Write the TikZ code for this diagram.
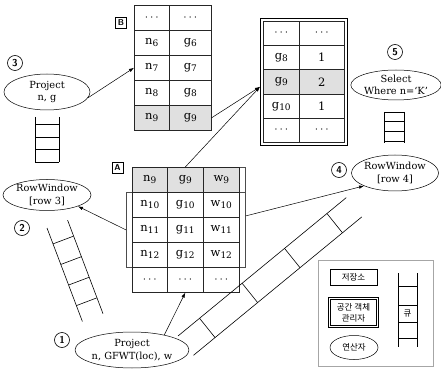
\documentclass[tikz,border=0pt]{standalone}
\usepackage{fontspec}
\setmainfont{DejaVu Serif}
\newfontfamily\krfont{Noto Sans CJK KR}
\usetikzlibrary{shapes.geometric,arrows.meta,calc}
\newcommand\mysub[1]{\raisebox{-0.35ex}{\fontsize{9}{9}\selectfont #1}}
\begin{document}
\begin{tikzpicture}[x=1pt,y=-1pt,
  cellb/.style={draw=black!85, line width=0.6pt, inner sep=0pt, anchor=north west, font=\fontsize{11.5}{12}\selectfont},
  gr/.style={fill=black!12},
  ell/.style={ellipse, draw, line width=0.5pt, inner sep=0pt, align=center, font=\fontsize{9.8}{12.5}\selectfont},
  num/.style={circle, draw, line width=0.6pt, inner sep=0pt, minimum size=15pt, font=\sffamily\bfseries\fontsize{10}{10}\selectfont},
  lab/.style={draw, line width=0.6pt, inner sep=0pt, minimum size=11pt, font=\sffamily\bfseries\fontsize{8.5}{8.5}\selectfont},
  arr/.style={-{Latex[length=5pt,width=3.5pt]}, line width=0.5pt},
  rail/.style={line width=0.6pt},
  krtext/.style={font=\krfont\fontsize{8.5}{11}\selectfont},
]
\useasboundingbox (0,0) rectangle (441,371);

% ---------- table B ----------
\node[lab] (labB) at (121,23) {B};
\node[cellb, minimum width=35pt, minimum height=25pt] (B-1-1) at (134,5) {$\cdots$};
\node[cellb, minimum width=42pt, minimum height=25pt] (B-1-2) at (169,5) {$\cdots$};
\node[cellb, minimum width=35pt, minimum height=25pt] (B-2-1) at (134,30) {n\mysub{6}};
\node[cellb, minimum width=42pt, minimum height=25pt] (B-2-2) at (169,30) {g\mysub{6}};
\node[cellb, minimum width=35pt, minimum height=25pt] (B-3-1) at (134,55) {n\mysub{7}};
\node[cellb, minimum width=42pt, minimum height=25pt] (B-3-2) at (169,55) {g\mysub{7}};
\node[cellb, minimum width=35pt, minimum height=25pt] (B-4-1) at (134,80) {n\mysub{8}};
\node[cellb, minimum width=42pt, minimum height=25pt] (B-4-2) at (169,80) {g\mysub{8}};
\node[cellb, gr, minimum width=35pt, minimum height=25pt] (B-5-1) at (134,105) {n\mysub{9}};
\node[cellb, gr, minimum width=42pt, minimum height=25pt] (B-5-2) at (169,105) {g\mysub{9}};

% ---------- count table ----------
\node[cellb, minimum width=36pt, minimum height=24pt] (C-1-1) at (263,21) {$\cdots$};
\node[cellb, minimum width=45pt, minimum height=24pt] (C-1-2) at (299,21) {$\cdots$};
\node[cellb, minimum width=36pt, minimum height=24pt] (C-2-1) at (263,45) {g\mysub{8}};
\node[cellb, minimum width=45pt, minimum height=24pt] (C-2-2) at (299,45) {1};
\node[cellb, gr, minimum width=36pt, minimum height=25pt] (C-3-1) at (263,69) {g\mysub{9}};
\node[cellb, gr, minimum width=45pt, minimum height=25pt] (C-3-2) at (299,69) {2};
\node[cellb, minimum width=36pt, minimum height=24pt] (C-4-1) at (263,94) {g\mysub{10}};
\node[cellb, minimum width=45pt, minimum height=24pt] (C-4-2) at (299,94) {1};
\node[cellb, minimum width=36pt, minimum height=24pt] (C-5-1) at (263,118) {$\cdots$};
\node[cellb, minimum width=45pt, minimum height=24pt] (C-5-2) at (299,118) {$\cdots$};
\draw[line width=1.1pt] ([shift={(-2.5,-2.5)}]C-1-1.north west) rectangle ([shift={(2.5,2.5)}]C-5-2.south east);

% ---------- table A ----------
\node[lab] (labA) at (117.5,168) {A};
\node[draw=black!70, line width=0.8pt, minimum width=119pt, minimum height=75pt, inner sep=0pt, anchor=north west] (win) at (126,192) {};
\draw[draw=black!70, line width=0.8pt] (win.north east) -- ([yshift=25pt]win.north east) -- ++(-6,0);
\node[cellb, gr, minimum width=35pt, minimum height=25pt] (A-1-1) at (132,167) {n\mysub{9}};
\node[cellb, gr, minimum width=36pt, minimum height=25pt] (A-1-2) at (167,167) {g\mysub{9}};
\node[cellb, gr, minimum width=36pt, minimum height=25pt] (A-1-3) at (203,167) {w\mysub{9}};
\node[cellb, minimum width=35pt, minimum height=25pt] (A-2-1) at (132,192) {n\mysub{10}};
\node[cellb, minimum width=36pt, minimum height=25pt] (A-2-2) at (167,192) {g\mysub{10}};
\node[cellb, minimum width=36pt, minimum height=25pt] (A-2-3) at (203,192) {w\mysub{10}};
\node[cellb, minimum width=35pt, minimum height=25pt] (A-3-1) at (132,217) {n\mysub{11}};
\node[cellb, minimum width=36pt, minimum height=25pt] (A-3-2) at (167,217) {g\mysub{11}};
\node[cellb, minimum width=36pt, minimum height=25pt] (A-3-3) at (203,217) {w\mysub{11}};
\node[cellb, minimum width=35pt, minimum height=25pt] (A-4-1) at (132,242) {n\mysub{12}};
\node[cellb, minimum width=36pt, minimum height=25pt] (A-4-2) at (167,242) {g\mysub{12}};
\node[cellb, minimum width=36pt, minimum height=25pt] (A-4-3) at (203,242) {w\mysub{12}};
\node[cellb, minimum width=35pt, minimum height=25pt] (A-6-1) at (132,267) {$\cdots$};
\node[cellb, minimum width=36pt, minimum height=25pt] (A-6-2) at (167,267) {$\cdots$};
\node[cellb, minimum width=36pt, minimum height=25pt] (A-6-3) at (203,267) {$\cdots$};

% ---------- operators ----------
\node[ell, minimum width=86pt, minimum height=36pt] (p3) at (47,92) {Project\\n, g};
\node[ell, minimum width=88pt, minimum height=31pt] (rw3) at (47,195) {RowWindow\\{[row 3]}};
\node[ell, minimum width=110pt, minimum height=36pt] (p1) at (132,350) {Project\\n, GFWT(loc), w};
\node[ell, minimum width=85pt, minimum height=36pt] (rw4) at (395,173) {RowWindow\\{[row 4]}};
\node[ell, minimum width=87pt, minimum height=30pt] (sel) at (396,85) {Select\\Where n=`K'};

\node[num] (c3) at (15,63) {3};
\node[num] (c2) at (22,228) {2};
\node[num] (c1) at (62,340) {1};
\node[num] (c4) at (339,170) {4};
\node[num] (c5) at (395,52) {5};

% ---------- connectors ----------
\draw[arr] (p3.-8) -- (B-3-1.west);
\draw[arr] (win.west) -- (rw3.-20);
\draw[arr] (A-1-2.north) -- ([xshift=-3pt,yshift=-5pt]C-3-1.west);
\draw[arr] (B-5-2.east) -- ([xshift=-3pt,yshift=-5pt]C-3-1.west);
\draw[arr] ([yshift=14pt]win.east) -- (rw4.south west);
\draw[arr] (p1.25) -- (A-6-2.south);

% ---------- queues ----------
\draw[rail] (35,117) -- (35,162) (59,117) -- (59,162);
\foreach \yy in {124,137,149,162} \draw[rail] (35,\yy) -- (59,\yy);

\draw[rail] (384,112) -- (384,143) (404,112) -- (404,143);
\foreach \yy in {112,121,131,141} \draw[rail] (384,\yy) -- (404,\yy);

\coordinate (L0) at (47,228);
\coordinate (L1) at (82.4,321.5);
\coordinate (R0) at (67.6,220.2);
\coordinate (R1) at (103,313.7);
\draw[rail] (L0) -- (L1) (R0) -- (R1);
\foreach \t in {0.17,0.39,0.61,0.83} \draw[rail] ($(L0)!\t!(L1)$) -- ($(R0)!\t!(R1)$);

\coordinate (U0) at (178,336);
\coordinate (U1) at (346.3,197.6);
\coordinate (V0) at (193.5,355.3);
\coordinate (V1) at (361.8,216.9);
\draw[rail] (U0) -- (U1) (V0) -- (V1);
\foreach \t in {0.128,0.381,0.633,0.885} \draw[rail] ($(U0)!\t!(U1)$) -- ($(V0)!\t!(V1)$);

% ---------- legend ----------
\node[draw=black!35, line width=0.6pt, minimum width=115pt, minimum height=106pt, anchor=north west, inner sep=0pt] (leg) at (318,260) {};
\node[draw, line width=0.6pt, minimum width=47pt, minimum height=16pt, inner sep=0pt, krtext] (st) at (353.5,277) {저장소};
\node[draw, double, double distance=1.3pt, line width=0.5pt, minimum width=48pt, minimum height=28pt, inner sep=0pt, align=center, krtext] (som) at (353.5,312.5) {공간 객체\\관리자};
\node[ellipse, draw, line width=0.5pt, minimum width=48pt, minimum height=24pt, inner sep=0pt, krtext] (op) at (354,347.5) {연산자};
\draw[rail] (398,273) -- (398,347) (417,273) -- (417,347);
\foreach \yy in {286,305,322,338} \draw[rail] (398,\yy) -- (417,\yy);
\node[krtext, inner sep=0pt] (q) at (407.5,313.5) {큐};
\end{tikzpicture}
\end{document}
